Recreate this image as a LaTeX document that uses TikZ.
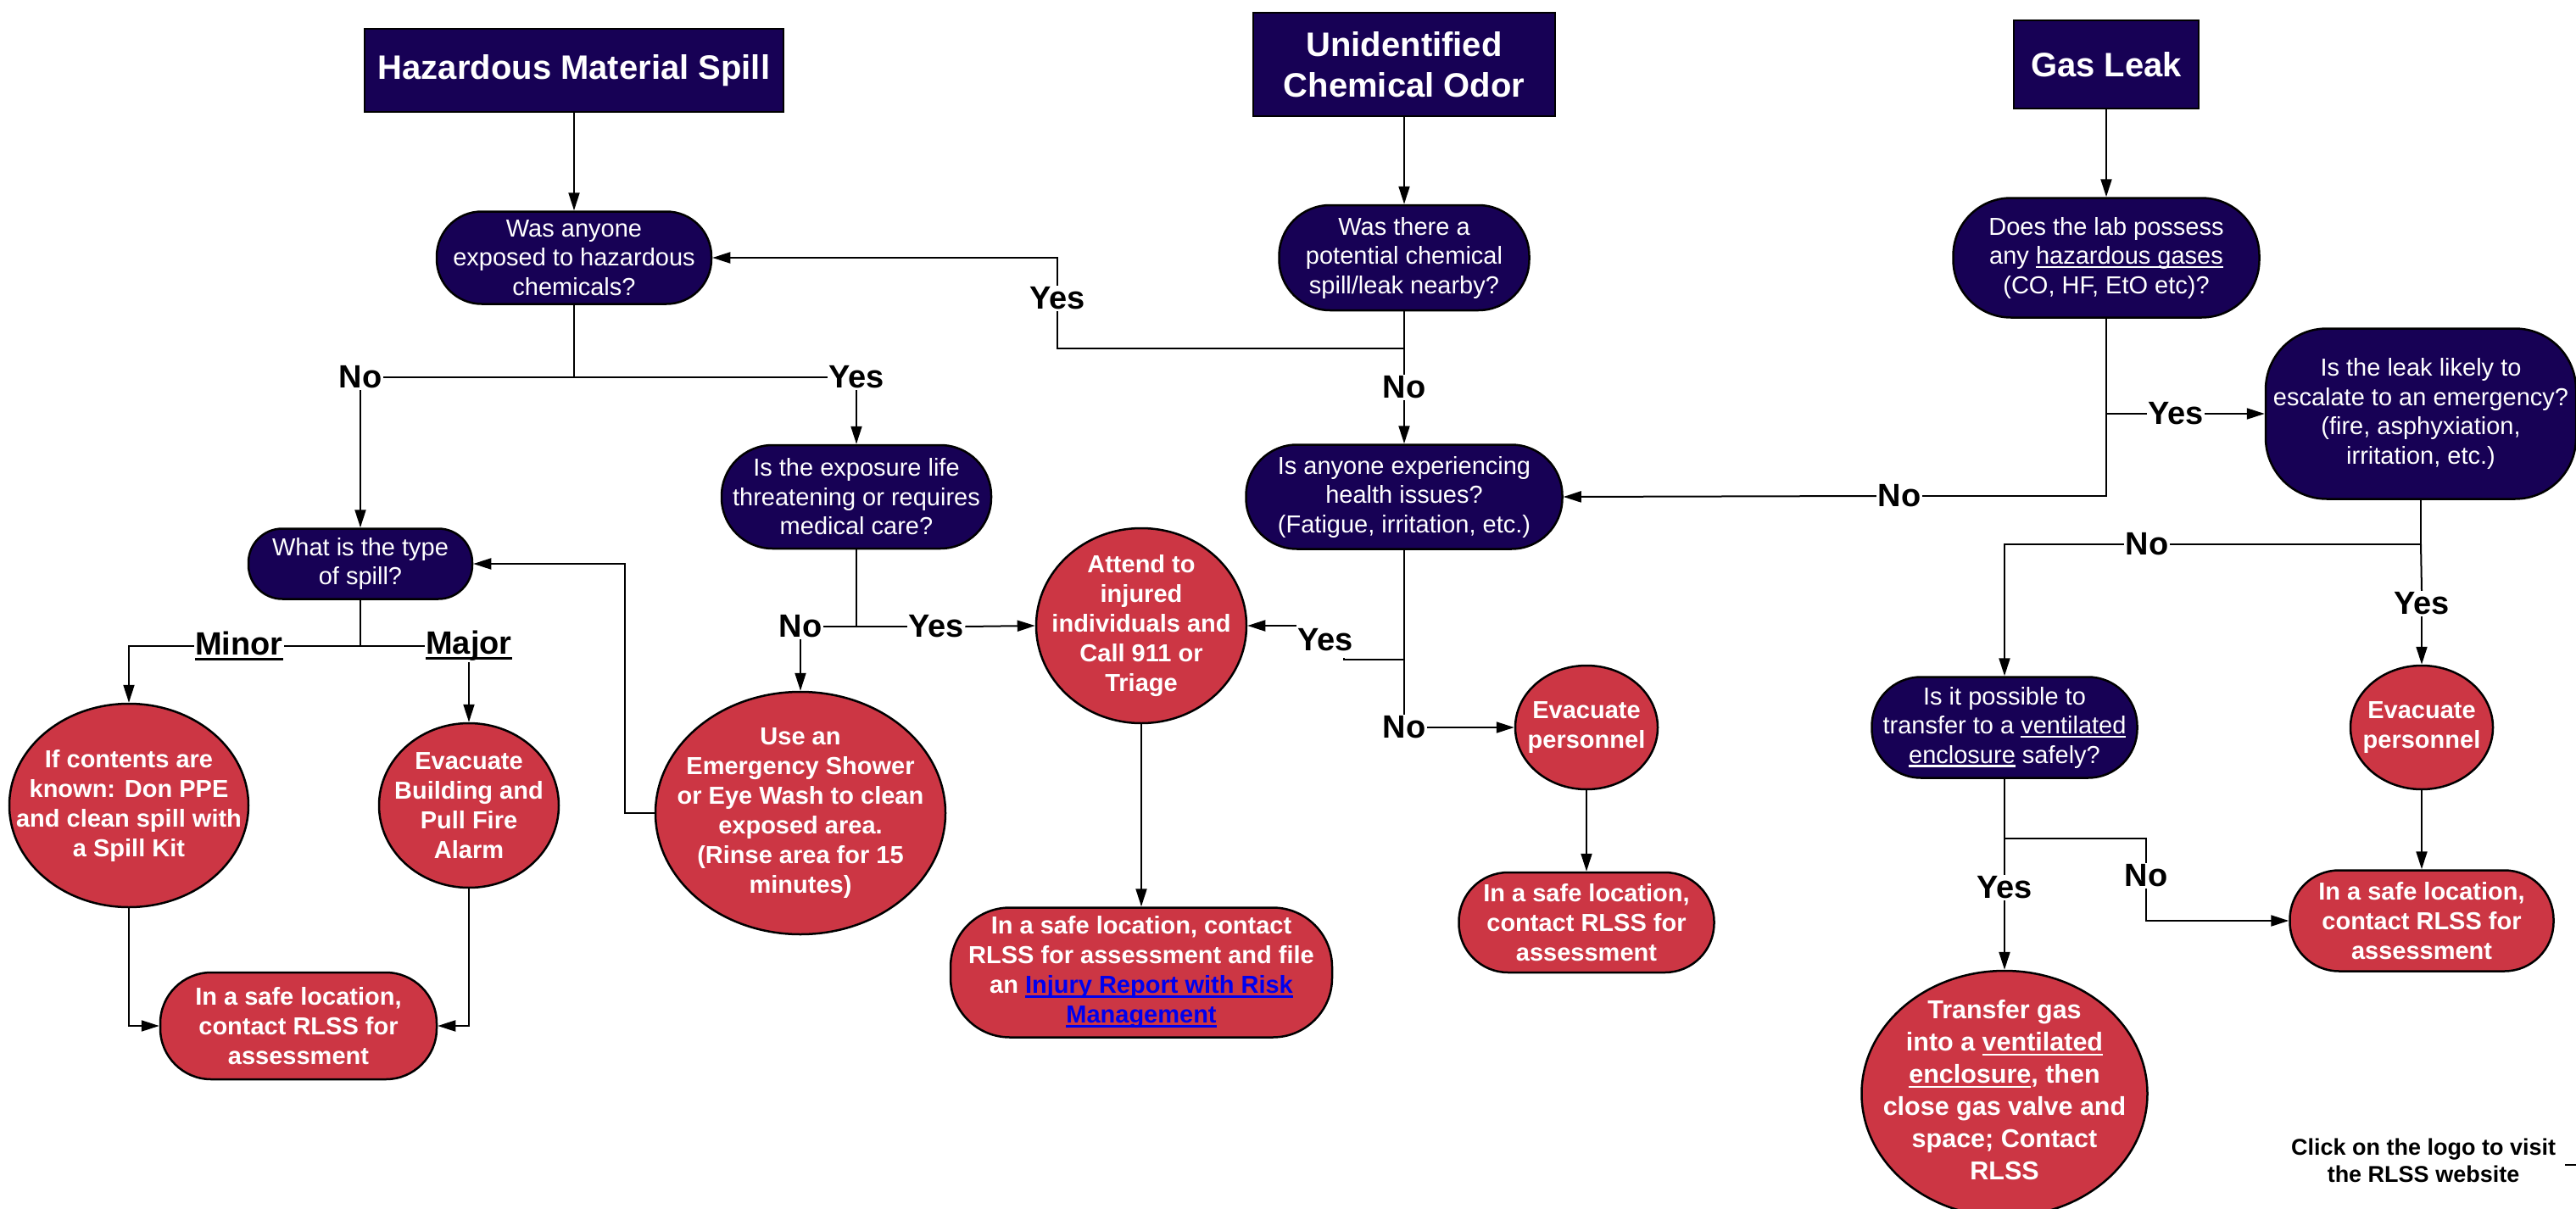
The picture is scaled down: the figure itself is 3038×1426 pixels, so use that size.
\documentclass[tikz,border=0pt]{standalone}
\usepackage{fontspec}
\setmainfont{Liberation Sans}
\usetikzlibrary{shapes.geometric,arrows.meta}
\definecolor{navy}{HTML}{170155}
\definecolor{redc}{HTML}{CC3644}
\definecolor{linkblue}{HTML}{0000EE}
\newsavebox\ulbox
\newcommand{\myul}[1]{\leavevmode\sbox\ulbox{#1}\rlap{\rule[-0.16em]{\wd\ulbox}{0.075em}}\usebox\ulbox}
\pgfdeclarelayer{bg}\pgfsetlayers{bg,main}
\begin{document}
\begin{tikzpicture}[x=1pt,y=-1pt,
 ttl/.style={draw=black, line width=2pt, fill=navy, text=white, font=\bfseries\fontsize{40}{48}\selectfont, align=center, inner sep=0pt},
 qn/.style={draw=black, line width=2.5pt, fill=navy, text=white, font=\fontsize{29}{34.5}\selectfont, align=center, inner sep=0pt},
 rr/.style={draw=black, line width=2.5pt, fill=redc, text=white, font=\bfseries\fontsize{29}{35}\selectfont, align=center, inner sep=0pt},
 rell/.style={ellipse, draw=black, line width=2.5pt, fill=redc, inner sep=0pt},
 rtxt/.style={text=white, font=\bfseries\fontsize{29}{35}\selectfont, align=center, inner sep=0pt},
 lbl/.style={font=\bfseries\fontsize{38}{40}\selectfont, fill=white, inner sep=1.5pt},
 conn/.style={line width=2pt},
 arr/.style={line width=2pt, -{Triangle[length=21pt,width=13pt]}}]
\useasboundingbox (0,0) rectangle (3038,1426);
% titles
\node[ttl, minimum width=494pt, minimum height=98pt] (hms) at (677,83) {Hazardous Material Spill};
\node[ttl, minimum width=356pt, minimum height=122pt] (uco) at (1656,76) {Unidentified\\Chemical Odor};
\node[ttl, minimum width=218pt, minimum height=104pt] (gas) at (2484,76) {Gas Leak};
% questions
\node[qn, rounded corners=53pt, minimum width=324pt, minimum height=109pt] (q1) at (677,304) {Was anyone\\exposed to hazardous\\chemicals?};
\node[qn, rounded corners=60pt, minimum width=295pt, minimum height=124pt] (q3) at (1656,304) {Was there a\\potential chemical\\spill/leak nearby?};
\node[qn, rounded corners=68pt, minimum width=361pt, minimum height=141pt] (q5) at (2484,304) {Does the lab possess\\any \myul{hazardous gases}\\(CO, HF, EtO etc)?};
\node[qn, rounded corners=60pt, minimum width=318pt, minimum height=122pt] (q2) at (1010,586) {Is the exposure life\\threatening or requires\\medical care?};
\node[qn, rounded corners=60pt, minimum width=373pt, minimum height=123pt] (q4) at (1656,586) {Is anyone experiencing\\health issues?\\(Fatigue, irritation, etc.)};
\node[qn, rounded corners=72pt, minimum width=366pt, minimum height=201pt] (q6) at (2855,488) {Is the leak likely to\\escalate to an emergency?\\(fire, asphyxiation,\\irritation, etc.)};
\node[qn, rounded corners=40pt, minimum width=264pt, minimum height=83pt] (wt) at (425,665) {What is the type\\of spill?};
\node[qn, rounded corners=58pt, minimum width=313pt, minimum height=119pt] (q7) at (2364,858) {Is it possible to\\transfer to a \myul{ventilated}\\\myul{enclosure} safely?};
% red ellipses
\node[rell, minimum width=282pt, minimum height=240pt] (e1) at (152,950) {};
\node[rtxt] (e1t) at (e1) {If contents are\\known: Don PPE\\and clean spill with\\a Spill Kit};
\node[rell, minimum width=212pt, minimum height=194pt] (e2) at (553,950) {};
\node[rtxt] (e2t) at (e2) {Evacuate\\Building and\\Pull Fire\\Alarm};
\node[rell, minimum width=342pt, minimum height=286pt] (e3) at (944,959) {};
\node[rtxt] (e3t) at (e3) {Use an\\Emergency Shower\\or Eye Wash to clean\\exposed area.\\(Rinse area for 15\\minutes)};
\node[rell, minimum width=248pt, minimum height=230pt] (e4) at (1346,738) {};
\node[rtxt] (e4t) at (e4) {Attend to\\injured\\individuals and\\Call 911 or\\Triage};
\node[rell, minimum width=168pt, minimum height=146pt] (e5) at (1871,858) {};
\node[rtxt] (e5t) at (e5) {Evacuate\\personnel};
\node[rell, minimum width=168pt, minimum height=146pt] (e6) at (2856,858) {};
\node[rtxt] (e6t) at (e6) {Evacuate\\personnel};
\node[rell, minimum width=337pt, minimum height=290pt] (e7) at (2364,1290) {};
\node[rtxt, font=\bfseries\fontsize{30.5}{38}\selectfont] (e7t) at (2364,1286) {Transfer gas\\into a \myul{ventilated}\\\myul{enclosure}, then\\close gas valve and\\space; Contact\\RLSS};
% red rounded boxes
\node[rr, rounded corners=60pt, minimum width=326pt, minimum height=126pt] (s1) at (352,1210) {In a safe location,\\contact RLSS for\\assessment};
\node[rr, rounded corners=70pt, minimum width=450pt, minimum height=153pt] (s2) at (1346,1147) {In a safe location, contact\\RLSS for assessment and file\\an \textcolor{linkblue}{\myul{Injury Report with Risk}}\\\textcolor{linkblue}{\myul{Management}}};
\node[rr, rounded corners=58pt, minimum width=301pt, minimum height=118pt] (s3) at (1871,1088) {In a safe location,\\contact RLSS for\\assessment};
\node[rr, rounded corners=58pt, minimum width=311pt, minimum height=119pt] (s4) at (2856,1086) {In a safe location,\\contact RLSS for\\assessment};
% labels
\node[lbl] (no1) at (425,445) {No};
\node[lbl] (yes1) at (1010,445) {Yes};
\node[lbl] (yes2) at (1247,352) {Yes};
\node[lbl] (no2) at (1656,457) {No};
\node[lbl] (minor) at (282,762) {\myul{Minor}};
\node[lbl] (major) at (553,762) {\myul{Major}};
\node[lbl] (no3) at (944,739) {No};
\node[lbl] (yes3) at (1104,739) {Yes};
\node[lbl, inner xsep=1pt, inner ysep=8pt] (yes4) at (1563,755) {Yes};
\node[lbl] (no4) at (1656,858) {No};
\node[lbl] (yes5) at (2566,488) {Yes};
\node[lbl] (no5) at (2240,585) {No};
\node[lbl] (no6) at (2532,642) {No};
\node[lbl] (yes6) at (2856,712) {Yes};
\node[lbl] (yes7) at (2364,1047) {Yes};
\node[lbl] (no7) at (2531,1033) {No};
\node[font=\bfseries\fontsize{27}{32}\selectfont, align=center, inner sep=0pt] (click) at (2858,1369) {Click on the logo to visit\\the RLSS website};
% junctions
\coordinate (j3) at (1656,411);
\coordinate (jw) at (425,762);
\coordinate (j2) at (1010,739);
\coordinate (j4) at (1656,778);
\coordinate (j4b) at (1585,778);
\coordinate (j5) at (2484,488);
\coordinate (j5b) at (2484,585);
\coordinate (j6) at (2855,642);
\coordinate (j7) at (2364,989);
\coordinate (lgA) at (3025,1374);
\coordinate (lgB) at (3040,1374);
\begin{pgfonlayer}{bg}
\draw[arr] (hms) -- (q1);
\draw[arr] (uco) -- (q3);
\draw[arr] (gas) -- (q5);
% Q1
\draw[conn] (q1.south) |- (no1.east);
\draw[conn] (q1.south) |- (yes1.west);
\draw[arr] (no1.south) -- (wt.north);
\draw[arr] (yes1.south) -- (q2.north);
% Q3
\draw[conn] (q3.south) -- (j3) -| (yes2.south);
\draw[arr] (yes2.north) |- (q1.east);
\draw[conn] (j3) -- (no2.north);
\draw[arr] (no2.south) -- (q4.north);
% What type
\draw[conn] (wt.south) -- (jw);
\draw[conn] (jw) -- (minor.east);
\draw[conn] (jw) -- (major.west);
\draw[arr] (minor.west) -| (e1.north);
\draw[arr] (major.south) -- (e2.north);
\draw[arr] (e1.south) |- (s1.west);
\draw[arr] (e2.south) |- (s1.east);
% Q2
\draw[conn] (q2.south) -- (j2);
\draw[conn] (no3.east) -- (yes3.west);
\draw[arr] (yes3.east) -- (e4.west);
\draw[arr] (no3.south) -- (e3.north);
\draw[arr] (e3.west) -- ++(-35,0) |- (wt.east);
\draw[arr] (e4.south) -- (s2.north);
% Q4
\draw[conn] (q4.south) -- (j4) -- (no4.north);
\draw[arr] (j4) -- (j4b) |- (e4.east);
\draw[arr] (no4.east) -- (e5.west);
\draw[arr] (e5.south) -- (s3.north);
% Q5
\draw[conn] (q5.south) -- (j5) -- (yes5.west);
\draw[arr] (yes5.east) -- (q6.west);
\draw[conn] (j5) -- (j5b) -- (no5.east);
\draw[arr] (no5.west) -- (q4.east);
% Q6
\draw[conn] (q6.south) -- (j6) -- (no6.east);
\draw[arr] (no6.west) -| (q7.north);
\draw[conn] (j6) -- (yes6.north);
\draw[arr] (yes6.south) -- (e6.north);
\draw[arr] (e6.south) -- (s4.north);
% Q7
\draw[conn] (q7.south) -- (j7) -| (no7.north);
\draw[arr] (no7.south) |- (s4.west);
\draw[conn] (j7) -- (yes7.north);
\draw[arr] (yes7.south) -- (e7.north);
\draw[conn] (lgA) -- (lgB);
\end{pgfonlayer}
\end{tikzpicture}
\end{document}
